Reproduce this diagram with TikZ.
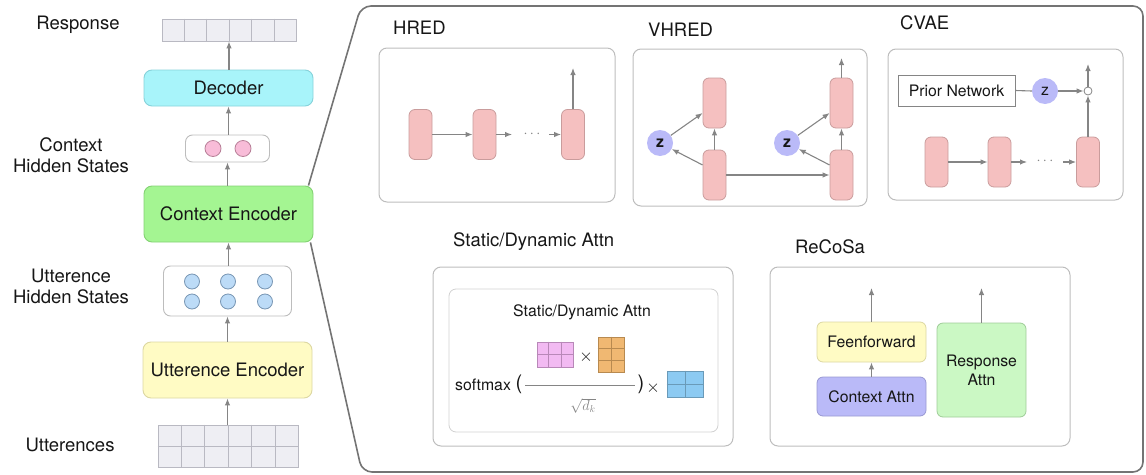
\documentclass[tikz,border=0pt]{standalone}
\usepackage{fontspec}
\setmainfont{TeX Gyre Heros}
\usetikzlibrary{arrows.meta,calc}
\definecolor{arrgray}{HTML}{858585}
\definecolor{txt}{HTML}{161616}
\definecolor{panelc}{HTML}{747474}
\definecolor{subb}{HTML}{BDBDBD}
\definecolor{deccol}{HTML}{A8F4FA}
\definecolor{decb}{HTML}{86D2DA}
\definecolor{cecol}{HTML}{A4F592}
\definecolor{ceb}{HTML}{84D274}
\definecolor{uecol}{HTML}{FFFBC4}
\definecolor{ueb}{HTML}{DCD7A2}
\definecolor{gridf}{HTML}{EEEEF3}
\definecolor{gridb}{HTML}{B9B9C2}
\definecolor{pinkc}{HTML}{F5C0C0}
\definecolor{pinkb}{HTML}{C99C9C}
\definecolor{lavc}{HTML}{BABAF8}
\definecolor{lavb}{HTML}{9898D2}
\definecolor{dotpink}{HTML}{F8BCD8}
\definecolor{dotpinkb}{HTML}{B88098}
\definecolor{dotblue}{HTML}{BCDBF7}
\definecolor{dotblueb}{HTML}{7896B4}
\definecolor{greenc}{HTML}{CBF8C4}
\definecolor{greenb}{HTML}{9FCC98}
\definecolor{mpink}{HTML}{F2BAF2}
\definecolor{mpinkb}{HTML}{B888B8}
\definecolor{morange}{HTML}{F0B872}
\definecolor{morangeb}{HTML}{B88A50}
\definecolor{mblue}{HTML}{8CCAF2}
\definecolor{mblueb}{HTML}{6A9AB8}
\newcommand\fbig{\fontsize{18.5}{21}\selectfont}
\newcommand\fsmall{\fontsize{15.8}{19}\selectfont}
\begin{document}
\begin{tikzpicture}[x=1pt,y=-1pt,
  arr/.style={draw=arrgray, line width=1.1pt, -{Latex[length=7pt,width=5.5pt]}},
  ln/.style={draw=arrgray, line width=1.1pt},
  lbl/.style={font=\fbig, text=txt, inner sep=0pt, align=center},
  slbl/.style={font=\fsmall, text=txt, inner sep=0pt, align=center},
  blk/.style={rounded corners=8pt, line width=0.9pt, font=\fbig, text=txt, inner sep=0pt, minimum width=169pt, minimum height=#1},
  gridbox/.style={draw=gridb, fill=gridf, line width=0.8pt, inner sep=0pt},
  gridline/.style={draw=gridb, line width=0.8pt},
  holder/.style={draw=subb, fill=white, rounded corners=7pt, line width=0.9pt, inner sep=0pt},
  sub/.style={draw=subb, rounded corners=8pt, line width=1pt, inner sep=0pt},
  cell/.style={draw=pinkb, fill=pinkc, rounded corners=6pt, line width=0.8pt, inner sep=0pt, minimum width=23pt, minimum height=50pt},
  zc/.style={circle, fill=lavc, inner sep=0pt, minimum size=26pt, font=\fsmall, text=txt},
  hdot/.style={circle, inner sep=0pt, minimum size=#1},
  mat/.style={line width=0.8pt, inner sep=0pt},
  dotsn/.style={text=arrgray, inner sep=0pt, font=\fsmall}
]
\useasboundingbox (0,0) rectangle (1146,474);

% ---------------- left column ----------------
\node[gridbox, minimum width=134pt, minimum height=22pt] (resp) at (229,30) {};
\foreach \i in {1,...,5}
  \draw[gridline] ($(resp.north west)!\i/6!(resp.north east)$) -- ($(resp.south west)!\i/6!(resp.south east)$);
\node[blk=36pt, fill=deccol, draw=decb] (dec) at (228.5,88) {Decoder};
\node[holder, minimum width=84pt, minimum height=27pt] (chs) at (227.5,148.5) {};
\node[hdot=16pt, fill=dotpink, draw=dotpinkb, line width=0.8pt] (cp1) at (213,148.5) {};
\node[hdot=16pt, fill=dotpink, draw=dotpinkb, line width=0.8pt] (cp2) at (243,148.5) {};
\node[blk=56pt, fill=cecol, draw=ceb] (ce) at (228.5,214) {Context Encoder};
\node[holder, minimum width=128pt, minimum height=50pt] (uhs) at (227.5,291) {};
\foreach \xx/\nm in {192/a,228/b,265/c}{
  \node[hdot=15pt, fill=dotblue, draw=dotblueb, line width=0.8pt] (ub1\nm) at (\xx,281.5) {};
  \node[hdot=15pt, fill=dotblue, draw=dotblueb, line width=0.8pt] (ub2\nm) at (\xx,301.5) {};
}
\node[blk=56pt, fill=uecol, draw=ueb] (ue) at (227.5,370) {Utterence Encoder};
\node[gridbox, minimum width=140pt, minimum height=42pt] (utt) at (228,446) {};
\foreach \i in {1,...,5}
  \draw[gridline] ($(utt.north west)!\i/6!(utt.north east)$) -- ($(utt.south west)!\i/6!(utt.south east)$);
\draw[gridline] (utt.west) -- (utt.east);

\draw[arr] (dec.north -| resp.south) -- (resp.south);
\draw[arr] (chs.north -| dec.south) -- (dec.south);
\draw[arr] (ce.north -| chs.south) -- (chs.south);
\draw[arr] (uhs.north -| ce.south) -- (ce.south);
\draw[arr] (ue.north -| uhs.south) -- (uhs.south);
\draw[arr] (utt.north -| ue.south) -- (ue.south);

\node[lbl] (lresp) at (78,25) {Response};
\node[lbl] (lchs) at (71,155.5) {Context\\Hidden States};
\node[lbl] (luhs) at (71,286) {Utterence\\Hidden States};
\node[lbl] (lutt) at (70,445) {Utterences};

% ---------------- zoom panel ----------------
\draw[draw=panelc, line width=1.6pt, rounded corners=10pt]
  ([xshift=-5pt]ce.north east) -- (361,6) -- (1143,6) -- (1143,472) -- (362,472) -- ([xshift=-3pt]ce.south east);

% ---------------- HRED ----------------
\node[lbl, anchor=west] (thred) at (393,28) {HRED};
\node[sub, minimum width=236pt, minimum height=154pt] (bhred) at (497,125) {};
\node[cell] (h1) at (420.5,134.5) {};
\node[cell] (h2) at (484.5,134.5) {};
\node[cell] (h3) at (573,134.5) {};
\coordinate (hd1) at (512,134.5);
\coordinate (hd2) at (549,134.5);
\coordinate (hout) at (573,68);
\draw[arr] (h1.east) -- (h2.west);
\draw[arr] (h2.east) -- (hd1);
\node[dotsn] (hdots) at (532,134) {$\cdots$};
\draw[arr] (hd2) -- (h3.west);
\draw[arr] (h3.north) -- (hout);

% ---------------- VHRED ----------------
\node[lbl, anchor=west] (tvhred) at (648,30) {VHRED};
\node[sub, minimum width=234pt, minimum height=157pt] (bvhred) at (750,127.5) {};
\node[cell] (u1) at (714.5,103) {};
\node[cell] (l1) at (714.5,175) {};
\node[cell] (u2) at (841.5,103) {};
\node[cell] (l2) at (841.5,175) {};
\node[zc, font=\fsmall\bfseries] (z1) at (660,143) {z};
\node[zc, font=\fsmall\bfseries] (z2) at (787,143) {z};
\coordinate (vout) at (841.5,58);
\draw[arr] (z1) -- ([yshift=-10pt]u1.west);
\draw[arr] ([yshift=10pt]l1.west) -- (z1);
\draw[arr] (l1.north) -- (u1.south);
\draw[arr] (z2) -- ([yshift=-10pt]u2.west);
\draw[arr] ([yshift=10pt]l2.west) -- (z2);
\draw[arr] (l2.north) -- (u2.south);
\draw[arr] (l1.east) -- (l2.west);
\draw[arr] (u2.north) -- (vout);

% ---------------- CVAE ----------------
\node[lbl, anchor=west] (tcvae) at (900,23) {CVAE};
\node[sub, minimum width=235pt, minimum height=151pt] (bcvae) at (1005.5,124.5) {};
\node[draw=arrgray, line width=0.8pt, minimum width=117pt, minimum height=31pt, inner sep=0pt, font=\fsmall, text=txt] (pn) at (956.5,90.5) {Prior Network};
\node[zc] (z3) at (1045,91) {z};
\node[circle, draw=arrgray, fill=white, line width=0.8pt, minimum size=8pt, inner sep=0pt] (oc) at (1088,91) {};
\node[cell] (c1) at (936.5,162) {};
\node[cell] (c2) at (999.5,162) {};
\node[cell] (c3) at (1088,162) {};
\coordinate (cd1) at (1027,162);
\coordinate (cd2) at (1063,162);
\coordinate (cout) at (1088,64);
\draw[ln] (pn.east) -- (z3.west);
\draw[arr] (z3.east) -- (oc.west);
\draw[arr] (c3.north) -- (oc.south);
\draw[arr] (oc.north) -- (cout);
\draw[arr] (c1.east) -- (c2.west);
\draw[arr] (c2.east) -- (cd1);
\node[dotsn] (cdots) at (1045,161.5) {$\cdots$};
\draw[arr] (cd2) -- (c3.west);

% ---------------- Static/Dynamic Attn ----------------
\node[lbl, anchor=west] (tsd) at (453,242) {Static/Dynamic Attn};
\node[sub, minimum width=300pt, minimum height=179pt] (sdo) at (583,356.5) {};
\node[draw=subb!70, rounded corners=7pt, line width=0.8pt, inner sep=0pt, minimum width=269pt, minimum height=143pt] (sdi) at (583.5,360.5) {};
\node[slbl] (sdt) at (582,312) {Static/Dynamic Attn};
\node[mat, draw=mpinkb, fill=mpink, minimum width=36pt, minimum height=25pt] (pm) at (555,354.5) {};
\foreach \i in {1,2}
  \draw[mat, draw=mpinkb] ($(pm.north west)!\i/3!(pm.north east)$) -- ($(pm.south west)!\i/3!(pm.south east)$);
\draw[mat, draw=mpinkb] (pm.west) -- (pm.east);
\node[mat, draw=morangeb, fill=morange, minimum width=26pt, minimum height=35pt] (om) at (611,354.5) {};
\draw[mat, draw=morangeb] (om.north) -- (om.south);
\foreach \i in {1,2}
  \draw[mat, draw=morangeb] ($(om.north west)!\i/3!(om.south west)$) -- ($(om.north east)!\i/3!(om.south east)$);
\node[mat, draw=mblueb, fill=mblue, minimum width=36pt, minimum height=26pt] (bm) at (685,384) {};
\draw[mat, draw=mblueb] (bm.north) -- (bm.south);
\draw[mat, draw=mblueb] (bm.west) -- (bm.east);
\node[slbl, font=\fontsize{17}{19}\selectfont] (x1) at (586,357) {$\times$};
\node[slbl, font=\fontsize{17}{19}\selectfont] (x2) at (653,388) {$\times$};
\node[slbl, anchor=west] (smx) at (455,385) {softmax};
\node[slbl, font=\fontsize{20}{22}\selectfont] (lp) at (519,384) {(};
\node[slbl, font=\fontsize{20}{22}\selectfont] (rp) at (641,384) {)};
\draw[draw=arrgray, line width=0.8pt] (525,385) -- (635,385);
\node[inner sep=0pt, text=arrgray, font=\fontsize{14}{16}\selectfont] (sq) at (583,406) {$\sqrt{d_k}$};

% ---------------- ReCoSa ----------------
\node[lbl, anchor=west] (trc) at (795,247) {ReCoSa};
\node[sub, minimum width=300pt, minimum height=179pt] (rco) at (920,356.5) {};
\node[draw=ueb, fill=uecol, rounded corners=6pt, line width=0.8pt, inner sep=0pt, minimum width=109pt, minimum height=40pt, font=\fsmall, text=txt] (ff) at (871.5,342) {Feenforward};
\node[draw=lavb, fill=lavc, rounded corners=6pt, line width=0.8pt, inner sep=0pt, minimum width=109pt, minimum height=39pt, font=\fsmall, text=txt] (ca) at (871.5,396.5) {Context Attn};
\node[draw=greenb, fill=greenc, rounded corners=6pt, line width=0.8pt, inner sep=0pt, minimum width=89pt, minimum height=94pt, font=\fsmall, text=txt, align=center] (ra) at (981.5,370) {Response\\Attn};
\coordinate (fout) at (871.5,288);
\coordinate (rout) at (981.5,288);
\draw[arr] (ca.north) -- (ff.south);
\draw[arr] (ff.north) -- (fout);
\draw[arr] (ra.north) -- (rout);
\end{tikzpicture}
\end{document}
